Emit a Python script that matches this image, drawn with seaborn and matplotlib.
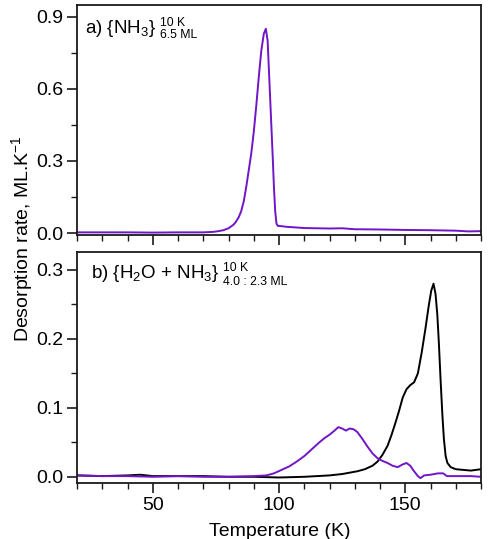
import numpy as np
import pandas as pd
import matplotlib
matplotlib.use("Agg")
import matplotlib.pyplot as plt
from matplotlib.ticker import MultipleLocator
import seaborn as sns

# a) pure NH3 ice, 6.5 ML deposited at 10 K
T_nh3 = [20, 30, 40, 50, 60, 70, 74, 76, 78, 80, 82, 83, 84, 85, 86, 87, 88,
         89, 90, 91, 92, 93, 94, 94.8, 95.5, 96, 96.5, 97, 97.5, 98, 98.5, 99,
         99.5, 100, 103, 106, 110, 115, 120, 125, 130, 140, 150, 160, 170, 175, 180]
rate_nh3 = [0.003, 0.003, 0.003, 0.002, 0.003, 0.003, 0.005, 0.008, 0.012, 0.02,
            0.035, 0.048, 0.065, 0.09, 0.13, 0.19, 0.26, 0.33, 0.42, 0.53, 0.65,
            0.76, 0.83, 0.85, 0.80, 0.68, 0.56, 0.44, 0.32, 0.19, 0.09, 0.04,
            0.03, 0.03, 0.026, 0.024, 0.021, 0.02, 0.019, 0.02, 0.016, 0.015,
            0.013, 0.012, 0.01, 0.007, 0.008]

# b) H2O + NH3 mixture, 4.0 : 2.3 ML
T_h2o = [20, 30, 40, 45, 50, 60, 70, 80, 90, 100, 110, 115, 120, 125, 128, 131,
         134, 137, 139, 141, 143, 144.5, 146, 147.5, 149, 150.5, 152, 153.5, 155,
         156.5, 158, 159.3, 160.3, 161.2, 162, 162.7, 163.3, 164, 164.7, 165.3,
         166, 166.7, 168, 170, 173, 176, 180]
rate_h2o = [0.002, 0.001, 0.002, 0.003, 0.001, 0.001, 0.001, 0.0, 0.0, -0.001,
            0.0, 0.001, 0.002, 0.004, 0.006, 0.008, 0.011, 0.016, 0.022, 0.032,
            0.045, 0.06, 0.077, 0.095, 0.115, 0.127, 0.133, 0.137, 0.15, 0.18,
            0.215, 0.248, 0.27, 0.28, 0.265, 0.235, 0.195, 0.14, 0.09, 0.055,
            0.03, 0.02, 0.014, 0.011, 0.010, 0.009, 0.011]

T_mix_nh3 = [20, 30, 40, 50, 60, 70, 80, 90, 95, 98, 101, 104, 107, 110, 113, 116,
             118, 120, 122, 123.5, 125, 126.5, 128, 129.5, 131, 133, 135, 137, 139,
             141, 143, 145, 147, 149, 150.5, 152, 153.5, 155, 156, 157.5, 160, 163,
             165, 166.5, 168, 172, 176, 180]
rate_mix_nh3 = [0.002, 0.001, 0.001, 0.0, 0.001, 0.0, 0.0, 0.001, 0.002, 0.005,
                0.01, 0.015, 0.022, 0.03, 0.04, 0.05, 0.056, 0.061, 0.067, 0.072,
                0.07, 0.067, 0.07, 0.069, 0.065, 0.055, 0.044, 0.034, 0.027, 0.023,
                0.02, 0.016, 0.014, 0.018, 0.02, 0.016, 0.008, 0.001, -0.002, 0.002,
                0.003, 0.005, 0.005, 0.001, 0.001, 0.001, 0.001, 0.0]

PURPLE = "#7015c8"
W, H = 491, 539

sns.set_theme(style="ticks")
plt.rcParams["font.family"] = ["Liberation Sans", "DejaVu Sans"]
plt.rcParams["mathtext.fontset"] = "custom"
plt.rcParams["mathtext.rm"] = "Liberation Sans"
plt.rcParams["mathtext.it"] = "Liberation Sans:italic"
plt.rcParams["text.color"] = "black"


def eksen_ayarla(ax, major, minor):
    ax.set_xlim(20, 180)
    ax.xaxis.set_major_locator(MultipleLocator(50))
    ax.xaxis.set_minor_locator(MultipleLocator(10))
    ax.yaxis.set_major_locator(MultipleLocator(major))
    ax.yaxis.set_minor_locator(MultipleLocator(minor))
    ax.tick_params(axis="both", which="major", direction="out", length=7,
                   width=1.2, color="#1a1a1a", labelsize=14, labelcolor="black",
                   pad=3)
    ax.tick_params(axis="both", which="minor", direction="out", length=4,
                   width=1.0, color="#1a1a1a")
    for sp in ax.spines.values():
        sp.set_linewidth(1.3)
        sp.set_color("#1a1a1a")
    ax.set_xlabel("")
    ax.set_ylabel("")


def px(x, y):
    return x / W, 1 - y / H


fig = plt.figure(figsize=(W / 100, H / 100), dpi=100)
ax1 = fig.add_axes([77 / W, 1 - 235 / H, 404 / W, 230 / H])
ax2 = fig.add_axes([77 / W, 1 - 483 / H, 404 / W, 231 / H])

df_a = pd.DataFrame({"T": T_nh3, "rate": rate_nh3})
sns.lineplot(data=df_a, x="T", y="rate", ax=ax1, color=PURPLE, lw=1.4)
ax1.set_ylim(-0.008, 0.949)
eksen_ayarla(ax1, 0.3, 0.15)
ax1.set_yticks([0.0, 0.3, 0.6, 0.9])
ax1.set_yticklabels(["0.0", "0.3", "0.6", "0.9"])
ax1.tick_params(axis="x", labelbottom=False)

df_h2o = pd.DataFrame({"T": T_h2o, "rate": rate_h2o})
df_nh3 = pd.DataFrame({"T": T_mix_nh3, "rate": rate_mix_nh3})
sns.lineplot(data=df_h2o, x="T", y="rate", ax=ax2, color="black", lw=1.4)
sns.lineplot(data=df_nh3, x="T", y="rate", ax=ax2, color=PURPLE, lw=1.4)
ax2.set_ylim(-0.009, 0.326)
eksen_ayarla(ax2, 0.1, 0.05)
ax2.set_yticks([0.0, 0.1, 0.2, 0.3])
ax2.set_yticklabels(["0.0", "0.1", "0.2", "0.3"])

# panel labels
fig.text(*px(85, 33.3), r"a) {NH$_3$}", fontsize=13.5, va="baseline")
fig.text(*px(160, 25.7), "10 K", fontsize=8.8, va="baseline")
fig.text(*px(160, 38.3), "6.5 ML", fontsize=8.8, va="baseline")

fig.text(*px(91, 278.3), r"b) {H$_2$O + NH$_3$}", fontsize=13.5, va="baseline")
fig.text(*px(223, 270.7), "10 K", fontsize=8.8, va="baseline")
fig.text(*px(223, 285), "4.0 : 2.3 ML", fontsize=8.8, va="baseline")

fig.text(*px(22, 239), r"Desorption rate, ML.K$^{-1}$", rotation=90,
         fontsize=14, ha="center", va="center")
fig.text(*px(280, 531), "Temperature (K)", fontsize=14,
         ha="center", va="center")

fig.savefig("out.png", dpi=100)
